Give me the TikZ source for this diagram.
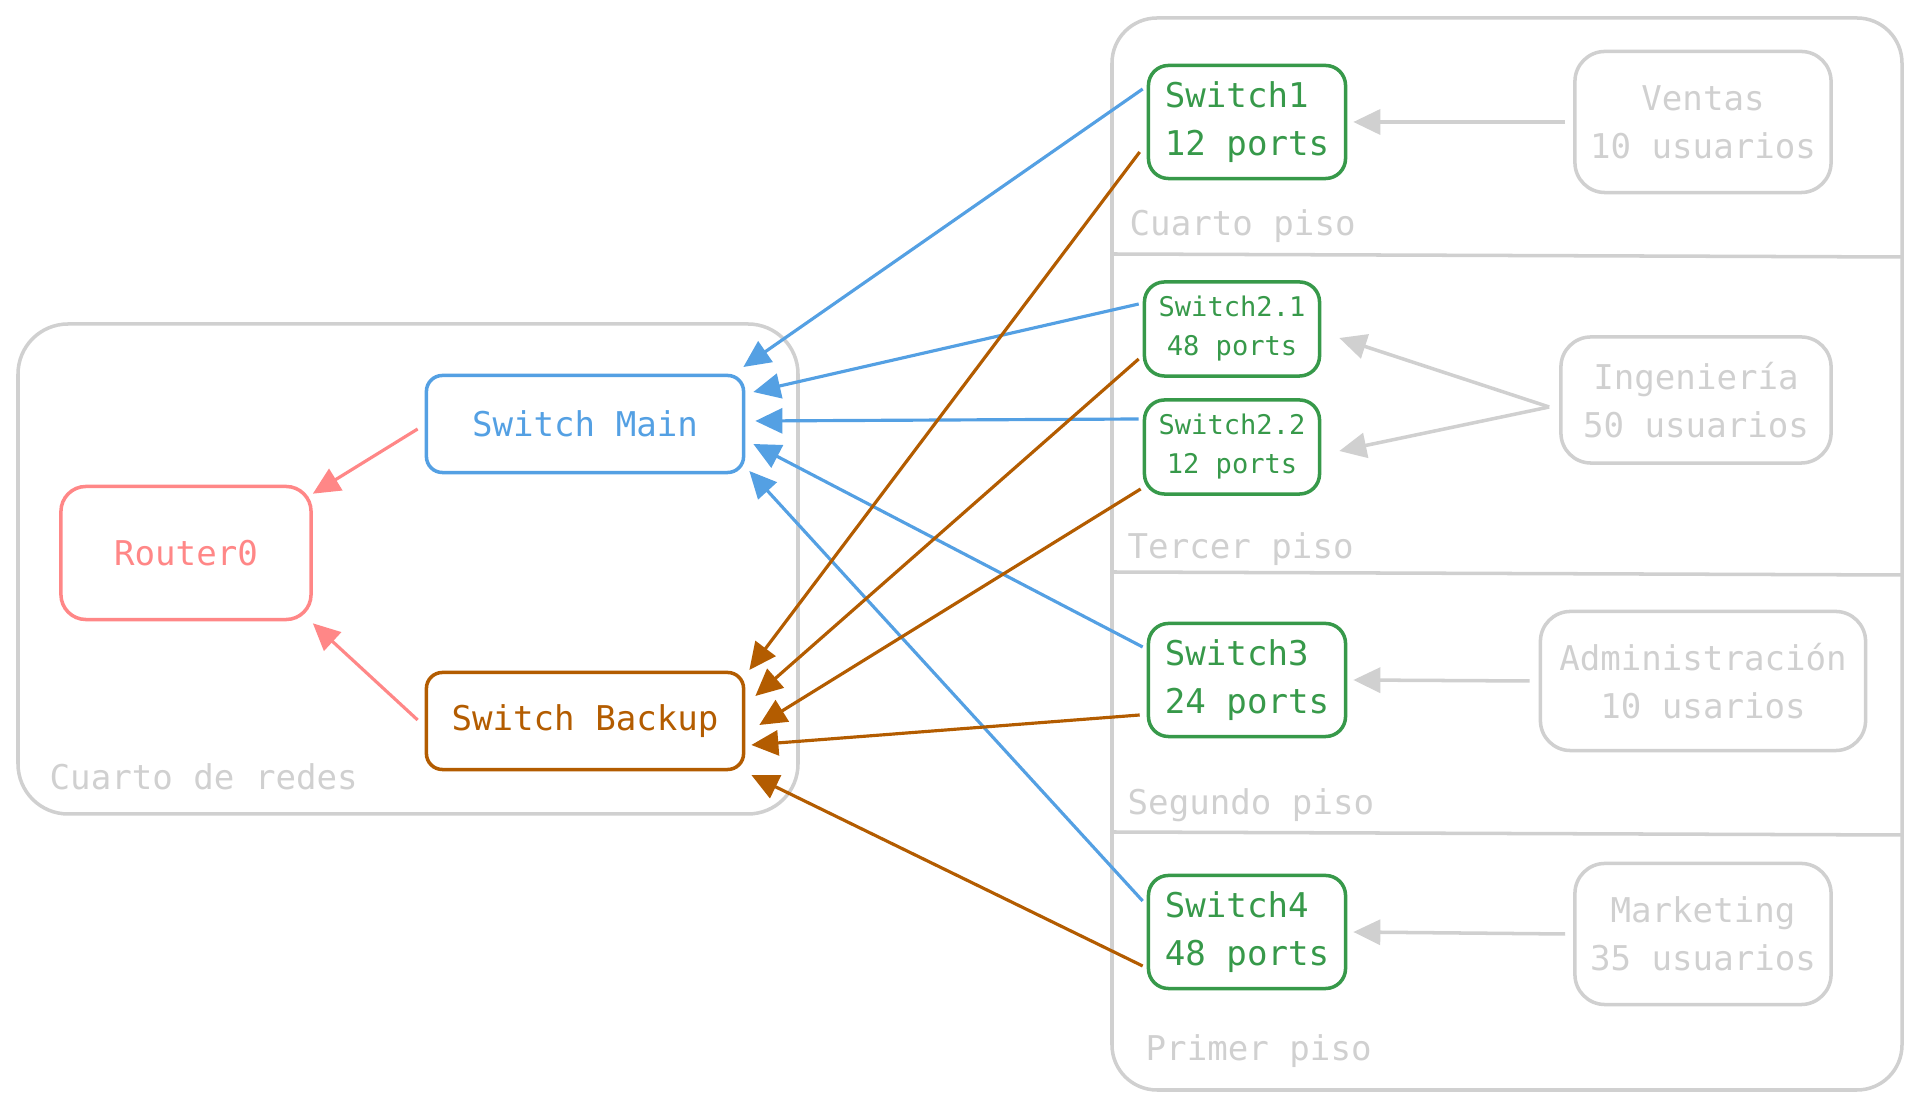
\documentclass[tikz,border=0pt]{standalone}
\usepackage{fontspec}
\setmonofont{DejaVu Sans Mono}
\usetikzlibrary{positioning,calc,arrows.meta}

\definecolor{routerred}{HTML}{FF8787}
\definecolor{mainblue}{HTML}{54A0E3}
\definecolor{backupbrown}{HTML}{B35C00}
\definecolor{switchgreen}{HTML}{37994A}
\definecolor{areagray}{HTML}{D0D0D0}

\tikzset{
  labelfont/.style={font=\ttfamily\fontsize{9.7}{13.6}\selectfont},
  box/.style={draw, labelfont, line width=1pt, inner sep=0pt, align=center},
  routerbox/.style={box, routerred, rounded corners=0.25cm, minimum width=2.5cm, minimum height=1.33cm},
  corebox/.style={box, rounded corners=0.16cm, minimum width=3.17cm, minimum height=0.97cm},
  switchbox/.style={box, switchgreen, rounded corners=0.2cm, minimum width=1.97cm, minimum height=1.13cm, align=left},
  smallswitch/.style={box, switchgreen, rounded corners=0.2cm, minimum width=1.75cm, minimum height=0.94cm,
    font=\ttfamily\fontsize{7.7}{11.1}\selectfont},
  deptbox/.style={box, areagray, rounded corners=0.3cm},
  arealabel/.style={labelfont, areagray, anchor=west, inner sep=0pt},
  tip/.style={-{Triangle[length=0.27cm,width=0.25cm]}, line width=0.9pt},
  bluelink/.style={tip, mainblue},
  brownlink/.style={tip, backupbrown},
  redlink/.style={tip, routerred},
  graylink/.style={tip, areagray, line width=1pt}
}

\begin{document}
\begin{tikzpicture}[x=0.01cm, y=-0.01cm]
  \useasboundingbox (0,0) rectangle (1920,1107);

  % Areas
  \draw[areagray, line width=1pt, rounded corners=0.5cm] (18,324) rectangle (798,814);
  \draw[areagray, line width=1pt, rounded corners=0.45cm] (1112,18) rectangle (1902,1090);
  \draw[areagray, line width=1pt] (1112,254) -- (1902,257);
  \draw[areagray, line width=1pt] (1112,572) -- (1902,575);
  \draw[areagray, line width=1pt] (1112,832) -- (1902,835);

  \node[arealabel] (redes) at (49,777) {Cuarto de redes};
  \node[arealabel] (piso4) at (1129,226) {Cuarto piso};
  \node[arealabel] (piso3) at (1127,549) {Tercer piso};
  \node[arealabel] (piso2) at (1127,805) {Segundo piso};
  \node[arealabel] (piso1) at (1145,1051) {Primer piso};

  % Core
  \node[routerbox] (router) at (186,553) {Router0};
  \node[corebox, mainblue] (main) at (585,424) {Switch Main};
  \node[corebox, backupbrown] (backup) at (585,721) {Switch Backup};

  % Switches
  \node[switchbox] (s1) at (1247,122) {Switch1\\12 ports};
  \node[smallswitch] (s21) at (1232,329) {Switch2.1\\48 ports};
  \node[smallswitch] (s22) at (1232,447) {Switch2.2\\12 ports};
  \node[switchbox] (s3) at (1247,680) {Switch3\\24 ports};
  \node[switchbox] (s4) at (1247,932) {Switch4\\48 ports};

  % Departments
  \node[deptbox, minimum width=2.56cm, minimum height=1.41cm] (ventas) at (1703,122) {Ventas\\10 usuarios};
  \node[deptbox, minimum width=2.7cm, minimum height=1.26cm] (inge) at (1696,400) {Ingeniería\\50 usuarios};
  \node[deptbox, minimum width=3.25cm, minimum height=1.39cm] (admin) at (1703,681) {Administración\\10 usarios};
  \node[deptbox, minimum width=2.56cm, minimum height=1.41cm] (mkt) at (1703,934) {Marketing\\35 usuarios};

  % Departments to switches
  \draw[graylink] ($(ventas.west)+(-8,0)$) -- ($(s1.east)+(6,0)$);
  \draw[graylink] ($(inge.west)+(-10,7)$) -- ($(s21.east)+(18,9)$);
  \draw[graylink] ($(inge.west)+(-10,7)$) -- ($(s22.east)+(18,4)$);
  \draw[graylink] ($(admin.west)+(-9,0)$) -- ($(s3.east)+(6,0)$);
  \draw[graylink] ($(mkt.west)+(-8,0)$) -- ($(s4.east)+(6,0)$);

  % Switches to Switch Main
  \foreach \sw/\fx/\fy/\tx/\ty in {s1/-4/-33/-2/-57, s21/-4/-25/8/-32, s22/-4/-28/10/-3, s3/-4/-33/8/20, s4/-4/-31/4/47}{
    \draw[bluelink] ($(\sw.west)+(\fx,\fy)$) -- ($(main.east)+(\tx,\ty)$);
  }

  % Switches to Switch Backup
  \foreach \sw/\fx/\fy/\tx/\ty in {s1/-7/30/4/-51, s21/-4/30/10/-25, s22/-2/42/14/4, s3/-7/35/6/24, s4/-4/34/6/54}{
    \draw[brownlink] ($(\sw.west)+(\fx,\fy)$) -- ($(backup.east)+(\tx,\ty)$);
  }

  % Core to router
  \draw[redlink] ($(main.west)+(-7,5)$) -- ($(router.north east)+(0,9)$);
  \draw[redlink] ($(backup.west)+(-7,-1)$) -- ($(router.south east)+(0,2)$);
\end{tikzpicture}
\end{document}
